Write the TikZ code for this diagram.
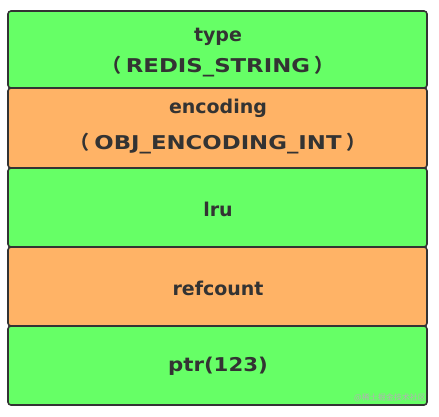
\documentclass[tikz,border=0pt]{standalone}
\usepackage{fontspec}
\setmainfont{DejaVu Sans}
\newfontfamily\widefont[FakeStretch=1.2]{DejaVu Sans}
\newfontfamily\midfont[FakeStretch=1.12]{DejaVu Sans}
\newfontfamily\cjk{Noto Sans CJK SC}
\definecolor{boxgreen}{HTML}{66FF66}
\definecolor{boxorange}{HTML}{FFB366}
\definecolor{edge}{HTML}{333333}
\newcommand{\lp}{{\cjk \hspace{0.3em}（}\hspace{0.25em}}
\newcommand{\rp}{\hspace{0.25em}{\cjk ）\hspace{0.3em}}}
\begin{document}
\begin{tikzpicture}[x=1pt,y=-1pt,
  field/.style={draw=edge, line width=1.6pt, rounded corners=3pt},
  lbl/.style={text=edge, font=\fontsize{19}{21}\selectfont\bfseries, align=center, inner sep=0pt},
  capslbl/.style={lbl, font=\widefont\fontsize{19}{21}\selectfont\bfseries}]
\useasboundingbox (0,0) rectangle (439,416);
\fill[white] (0,0) rectangle (439,416);
\path[field, fill=boxgreen] (8,11) rectangle (427,88);
\path[field, fill=boxorange] (8,88) rectangle (427,168);
\path[field, fill=boxgreen] (8,168) rectangle (427,247);
\path[field, fill=boxorange] (8,247) rectangle (427,326);
\path[field, fill=boxgreen] (8,326) rectangle (427,405);
\node[lbl] (t1) at (218,37) {type};
\node[capslbl] (t2) at (218,67) {\lp REDIS\_STRING\rp};
\node[lbl] (e1) at (218,108) {encoding};
\node[capslbl] (e2) at (218,144) {\lp OBJ\_ENCODING\_INT\rp};
\node[lbl] (l) at (218,209) {lru};
\node[lbl] (r) at (218,288) {refcount};
\node[lbl, font=\midfont\fontsize{19}{21}\selectfont\bfseries] (p) at (218,366) {ptr(123)};
\node[text=gray!60, font=\cjk\fontsize{8}{9}\selectfont, anchor=east, inner sep=0pt] (wm) at (426,398) {@稀土掘金技术社区};
\end{tikzpicture}
\end{document}
